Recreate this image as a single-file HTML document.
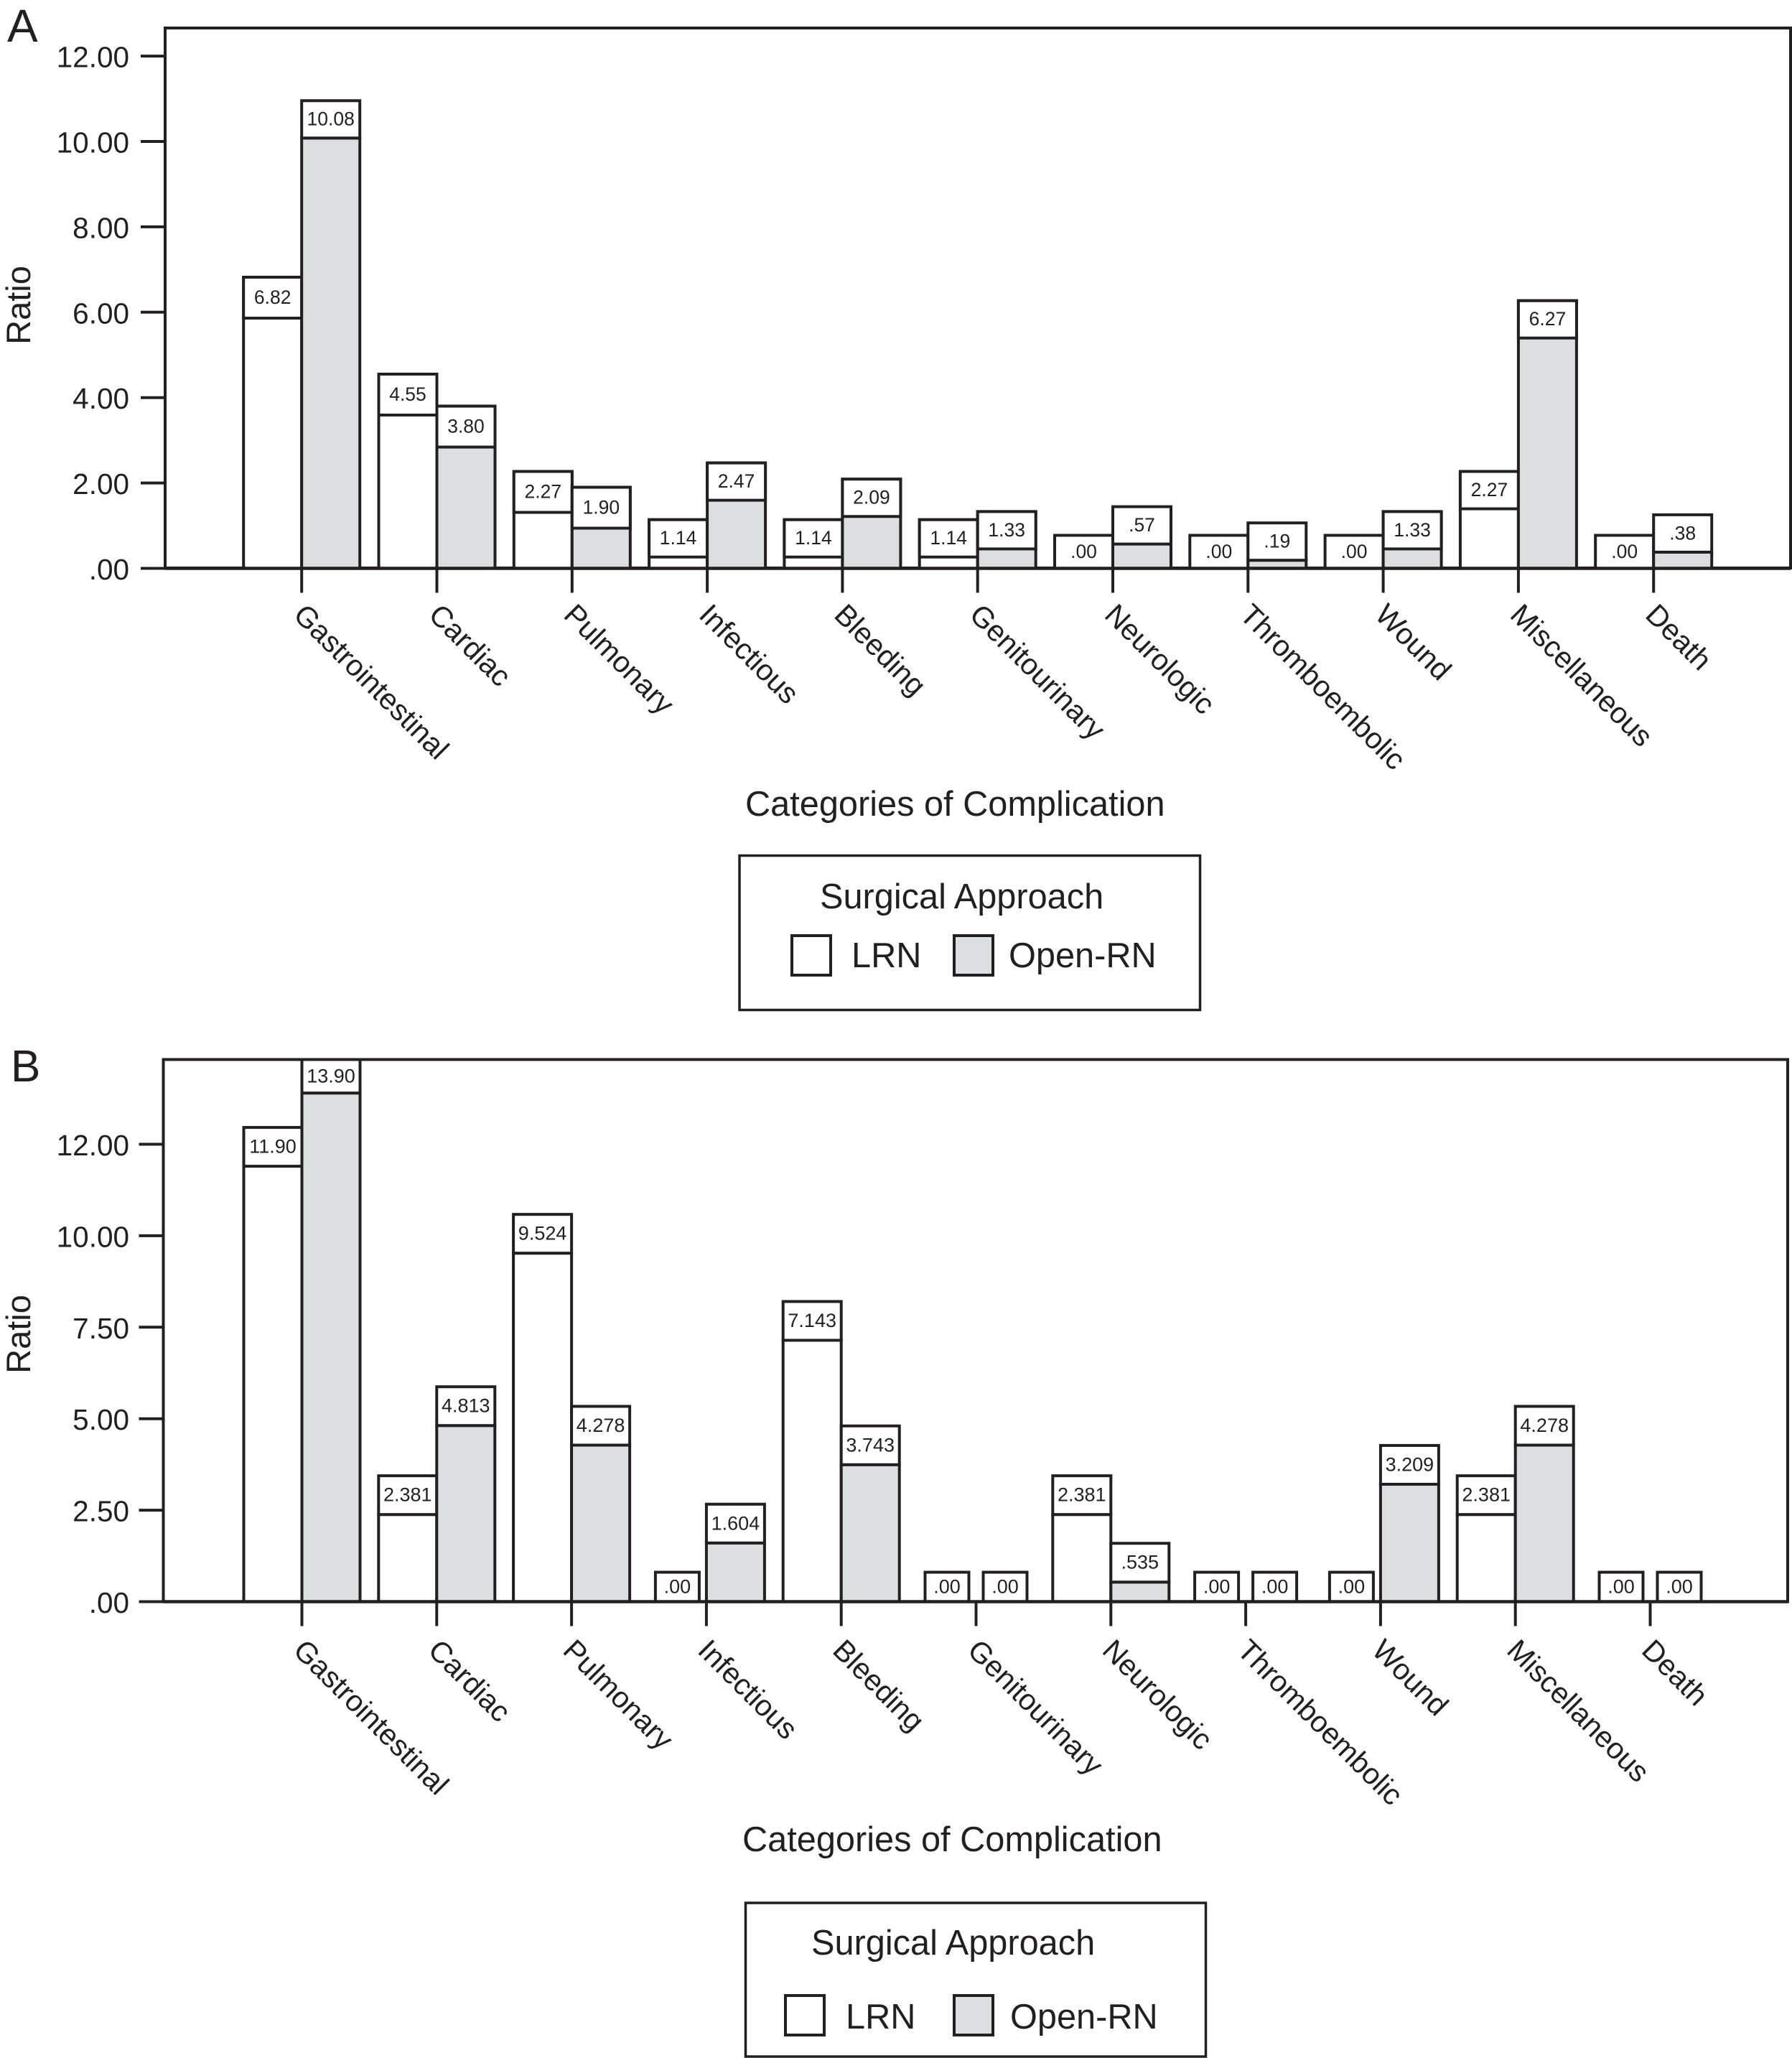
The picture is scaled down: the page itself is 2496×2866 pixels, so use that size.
<!DOCTYPE html>
<html lang="en">
<head>
<meta charset="utf-8">
<title>Complication ratios by surgical approach</title>
<style>
html,body{margin:0;padding:0;background:#fff}
svg{display:block}
text{font-family:"Liberation Sans",sans-serif;fill:#231f20}
</style>
</head>
<body>
<svg id="figure" xmlns="http://www.w3.org/2000/svg" width="2496" height="2866" viewBox="0 0 2496 2866">
  <text x="10" y="58" font-size="64">A</text>
  <text x="15" y="1506" font-size="62">B</text>

  <rect x="230" y="39" width="2264" height="752" fill="#fff" stroke="#231f20" stroke-width="4"/>
  <rect x="227.5" y="1475.5" width="2262.5" height="755" fill="#fff" stroke="#231f20" stroke-width="4"/>
  <g id="chart-a"></g>
  <g id="chart-b"></g>

  <text transform="translate(42 425) rotate(-90)" text-anchor="middle" font-size="47">Ratio</text>
  <text x="1038" y="1136" font-size="48.7">Categories of Complication</text>
  <text transform="translate(42 1858) rotate(-90)" text-anchor="middle" font-size="47">Ratio</text>
  <text x="1034" y="2578" font-size="48.7">Categories of Complication</text>

  <g>
    <rect x="1030" y="1191.5" width="641.5" height="215" fill="#fff" stroke="#231f20" stroke-width="3.5"/>
    <text x="1142" y="1265" font-size="48.7">Surgical Approach</text>
    <rect x="1103" y="1303" width="54" height="55" fill="#fff" stroke="#231f20" stroke-width="4"/>
    <text x="1186" y="1347" font-size="48.7">LRN</text>
    <rect x="1329" y="1303" width="54" height="55" fill="#dcdfe0" stroke="#231f20" stroke-width="4"/>
    <text x="1405" y="1347" font-size="48.7">Open-RN</text>
  </g>
  <g>
    <rect x="1038.5" y="2650" width="641" height="214" fill="#fff" stroke="#231f20" stroke-width="3.5"/>
    <text x="1130" y="2722" font-size="48.7">Surgical Approach</text>
    <rect x="1094" y="2779" width="54" height="55" fill="#fff" stroke="#231f20" stroke-width="4"/>
    <text x="1178" y="2825" font-size="48.7">LRN</text>
    <rect x="1329" y="2779" width="54" height="55" fill="#dcdfe0" stroke="#231f20" stroke-width="4"/>
    <text x="1407" y="2825" font-size="48.7">Open-RN</text>
  </g>
</svg>
<script>
const categories = ["Gastrointestinal","Cardiac","Pulmonary","Infectious","Bleeding","Genitourinary","Neurologic","Thromboembolic","Wound","Miscellaneous","Death"];

const lrnValuesA = [6.82,4.55,2.27,1.14,1.14,1.14,0,0,0,2.27,0];
const openValuesA = [10.08,3.80,1.90,2.47,2.09,1.33,0.57,0.19,1.33,6.27,0.38];
const lrnLabelsA = ["6.82","4.55","2.27","1.14","1.14","1.14",".00",".00",".00","2.27",".00"];
const openLabelsA = ["10.08","3.80","1.90","2.47","2.09","1.33",".57",".19","1.33","6.27",".38"];
const tickValuesA = [0,2,4,6,8,10,12];
const tickLabelsA = [".00","2.00","4.00","6.00","8.00","10.00","12.00"];

const lrnValuesB = [11.90,2.381,9.524,0,7.143,0,2.381,0,0,2.381,0];
const openValuesB = [13.90,4.813,4.278,1.604,3.743,0,0.535,0,3.209,4.278,0];
const lrnLabelsB = ["11.90","2.381","9.524",".00","7.143",".00","2.381",".00",".00","2.381",".00"];
const openLabelsB = ["13.90","4.813","4.278","1.604","3.743",".00",".535",".00","3.209","4.278",".00"];
const tickValuesB = [0,2.5,5,7.5,10,12.5];
const tickLabelsB = [".00","2.50","5.00","7.50","10.00","12.00"];

const SVG_NS = "http://www.w3.org/2000/svg";
const INK = "#231f20";
const GREY = "#dcdfe0";

function make(parent, tag, props) {
  const el = document.createElementNS(SVG_NS, tag);
  for (const key in props) el.setAttribute(key, props[key]);
  parent.appendChild(el);
  return el;
}

function drawBar(g, cfg, x, value, label, fill, i, series) {
  const w = cfg.barWidth;
  const yTop = cfg.y0 - cfg.unit * value;
  const base = cfg.y0;
  if (value > 0) {
    const bar = make(g, "rect", {x: x, y: yTop, width: w, height: base - yTop, fill: fill, stroke: INK, "stroke-width": 4});
    
    
  }
  let boxX = x, boxW = w, boxTop, boxBottom;
  if (value === 0) {
    boxW = cfg.zeroBoxWidth;
    boxX = x + (w - boxW) / 2;
    boxTop = base - cfg.zeroBoxHeight;
    boxBottom = base;
  } else if (cfg.labelAbove(value)) {
    boxBottom = yTop;
    boxTop = Math.max(cfg.frameTop, yTop - cfg.boxHeight(i, true));
  } else {
    boxTop = yTop;
    boxBottom = yTop + cfg.boxHeight(i, false);
  }
  const box = make(g, "rect", {x: boxX, y: boxTop, width: boxW, height: boxBottom - boxTop, fill: "#fff", stroke: INK, "stroke-width": 4});
  
  
  const txt = make(g, "text", {x: boxX + boxW / 2, y: (boxTop + boxBottom) / 2 + 8.5, "text-anchor": "middle", "font-size": cfg.valueFont});
  txt.textContent = label;
  
  
}

function drawChart(cfg) {
  const g = document.getElementById(cfg.id);
  const xTick = function (i) { return cfg.x0 + cfg.step * i; };
  const yPos = function (v) { return cfg.y0 - cfg.unit * v; };

  cfg.tickValues.forEach(function (v, k) {
    const y = yPos(v);
    const tick = make(g, "line", {x1: cfg.frameLeft - 34, x2: cfg.frameLeft, y1: y, y2: y, stroke: INK, "stroke-width": 4});
    
    
    const lab = make(g, "text", {x: 180, y: y + 15.5, "text-anchor": "end", "font-size": 40.5});
    lab.textContent = cfg.tickLabels[k];
    
    
  });

  categories.forEach(function (name, i) {
    const x = xTick(i);
    drawBar(g, cfg, x - cfg.barWidth, cfg.lrn[i], cfg.lrnLabels[i], "#fff", i, "lrn");
    drawBar(g, cfg, x, cfg.open[i], cfg.openLabels[i], GREY, i, "open");
  });

  const axis = make(g, "line", {x1: cfg.frameLeft, x2: cfg.frameRight, y1: cfg.y0, y2: cfg.y0, stroke: INK, "stroke-width": 4.5});
  
  

  categories.forEach(function (name, i) {
    const x = xTick(i);
    const tick = make(g, "line", {x1: x, x2: x, y1: cfg.y0, y2: cfg.y0 + 34, stroke: INK, "stroke-width": 4});
    
    
    const lab = make(g, "text", {transform: "translate(" + (x - cfg.labelInset) + " " + (cfg.y0 + cfg.labelDrop) + ") rotate(45)", "font-size": 41});
    lab.textContent = name;
    
    
  });
}

drawChart({
  id: "chart-a", x0: 420.2, step: 188.3, y0: 791.5, unit: 59.45, barWidth: 81,
  frameLeft: 230, frameRight: 2494, frameTop: 39, labelDrop: 67, labelInset: 13.5, valueFont: 26.5,
  zeroBoxWidth: 81, zeroBoxHeight: 46,
  labelAbove: function (v) { return v < 1 || v > 10; },
  boxHeight: function (i, above) { return (i < 3 && !above) ? 57 : 52; },
  lrn: lrnValuesA, open: openValuesA, lrnLabels: lrnLabelsA, openLabels: openLabelsA,
  tickValues: tickValuesA, tickLabels: tickLabelsA
});

drawChart({
  id: "chart-b", x0: 420.5, step: 187.8, y0: 2230.5, unit: 50.96, barWidth: 81,
  frameLeft: 227.5, frameRight: 2490, frameTop: 1475.5, labelDrop: 70, labelInset: 14, valueFont: 27,
  zeroBoxWidth: 61, zeroBoxHeight: 41,
  labelAbove: function () { return true; },
  boxHeight: function () { return 54; },
  lrn: lrnValuesB, open: openValuesB, lrnLabels: lrnLabelsB, openLabels: openLabelsB,
  tickValues: tickValuesB, tickLabels: tickLabelsB
});
</script>
</body>
</html>
